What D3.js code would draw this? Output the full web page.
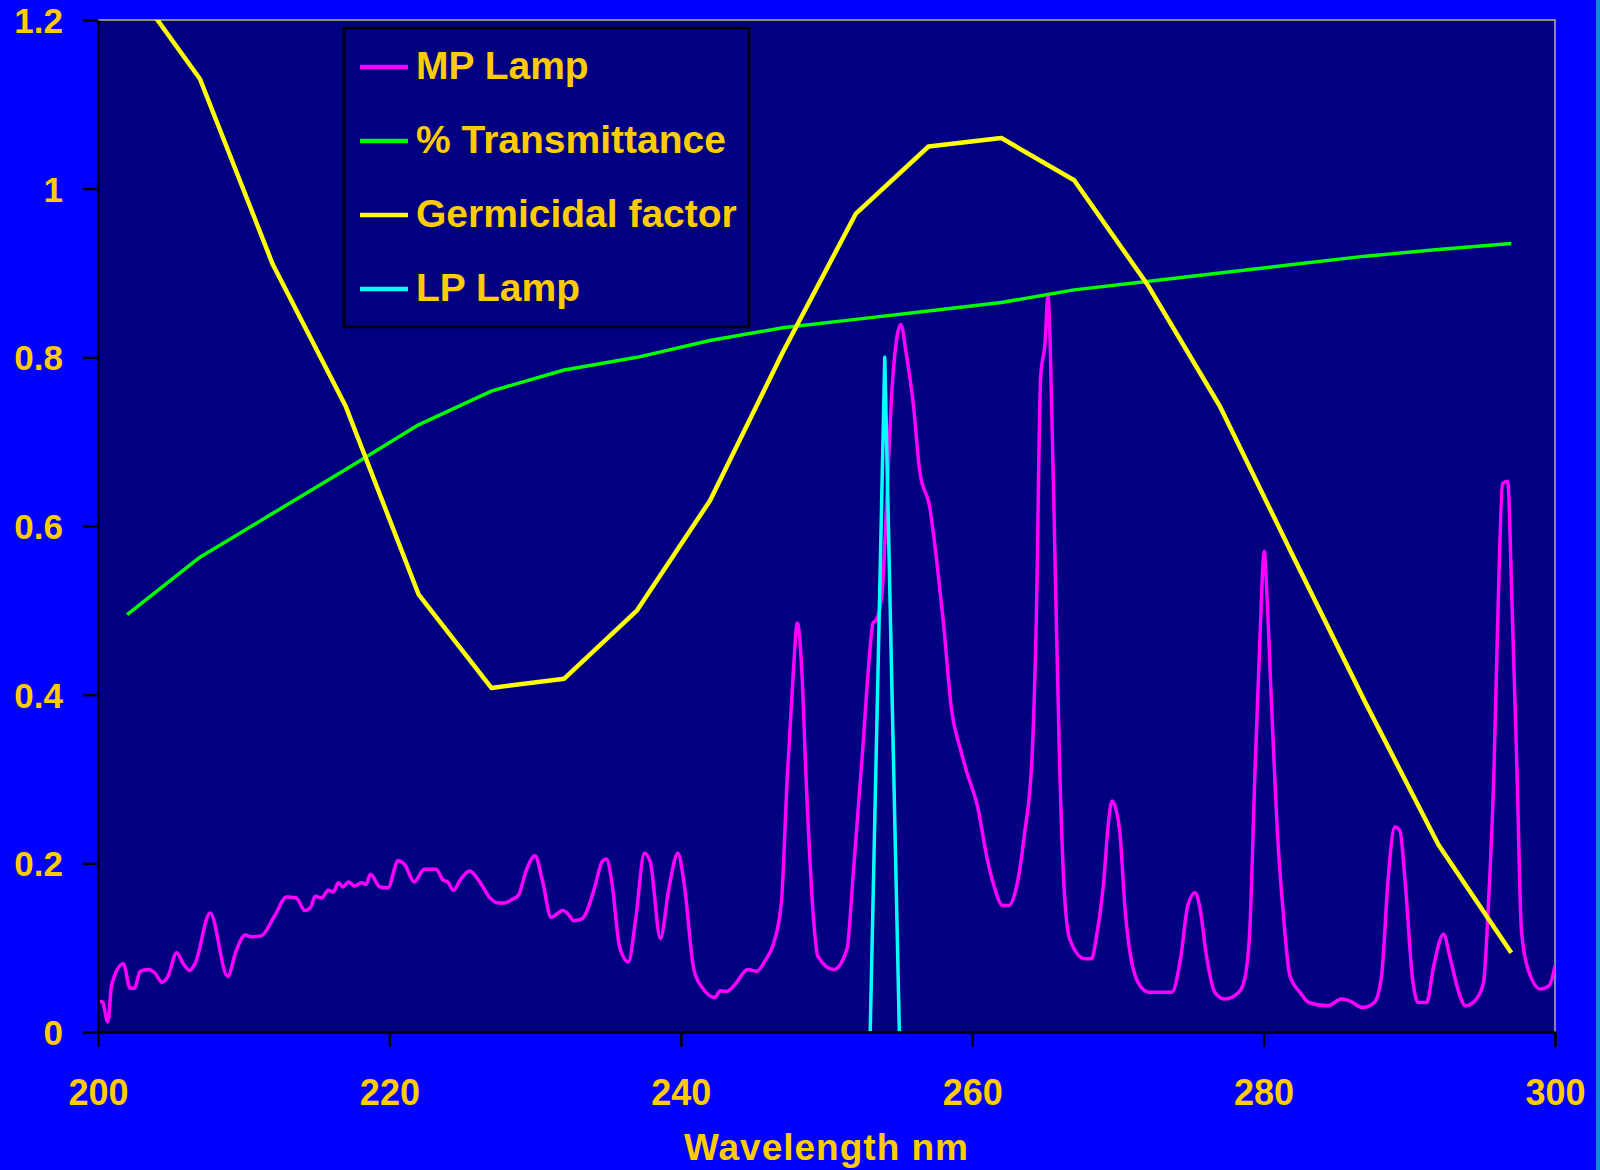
<!DOCTYPE html>
<html>
<head>
<meta charset="utf-8">
<script src="https://cdn.jsdelivr.net/npm/d3@7"></script>
<style>
  html, body { margin: 0; padding: 0; background: #0000ff; }
  svg { display: block; }
  text { font-family: "Liberation Sans", Arial, sans-serif; font-weight: bold; fill: #ffcc00; }
</style>
</head>
<body>
<div id="chart"></div>
<script>
// MP Lamp spectrum (wavelength nm, relative output)
const mpWavelength = [
  200.0, 200.3, 200.67, 200.94, 201.74, 202.2, 202.5, 202.9, 203.45, 203.9, 204.4, 204.8, 205.4, 205.85,
  206.3, 206.66, 207.7, 208.9, 209.5, 210.1, 210.5, 211.2, 212.1, 212.95, 213.6, 214.2, 214.6, 214.9,
  215.35, 215.8, 216.15, 216.5, 216.8, 217.2, 217.6, 218.1, 218.4, 218.7, 219.35, 219.9, 220.6, 221.07,
  221.7, 222.4, 223.2, 223.7, 224.0, 224.4, 224.85, 225.5, 226.2, 226.9, 227.5, 227.9, 228.4, 228.85,
  229.4, 230.0, 230.5, 231.1, 231.9, 232.4, 232.6, 233.2, 233.5, 234.1, 234.6, 234.9, 235.25, 235.8,
  236.4, 236.9, 237.5, 237.9, 238.6, 239.2, 239.8, 240.2, 240.9, 241.5, 242.35, 242.7, 243.15, 243.7,
  244.6, 245.2, 245.8, 246.35, 246.9, 247.3, 247.7, 248.0, 248.3, 248.6, 249.1, 249.4, 250.5, 251.4,
  251.85, 252.5, 252.9, 253.2, 253.4, 253.8, 254.1, 254.5, 255.1, 255.5, 255.95, 256.4, 257.1, 257.55,
  258.0, 258.6, 259.2, 259.6, 260.4, 261.0, 261.45, 262.1, 262.5, 263.05, 263.6, 264.1, 264.4, 264.7,
  265.0, 265.2, 265.35, 265.7, 266.0, 266.3, 266.7, 267.7, 268.2, 268.5, 269.0, 269.35, 269.6, 270.1,
  270.5, 270.9, 271.6, 272.2, 273.7, 274.3, 274.8, 275.3, 275.6, 276.1, 276.65, 277.35, 278.3, 278.7,
  279.05, 279.4, 279.75, 280.05, 280.2, 280.55, 281.0, 281.35, 281.8, 282.5, 283.1, 284.4, 285.35, 285.9,
  286.8, 287.6, 288.1, 288.55, 289.0, 289.35, 289.7, 290.2, 290.6, 291.2, 291.65, 292.35, 292.8, 293.4,
  293.85, 294.6, 295.1, 295.4, 295.8, 296.1, 296.4, 296.75, 297.05, 297.4, 297.7, 298.3, 299.0, 299.6,
  300.0
];
const mpValue = [
  0.036, 0.036, 0.012, 0.056, 0.081, 0.052, 0.052, 0.072, 0.074, 0.070, 0.059, 0.066, 0.094, 0.081,
  0.073, 0.081, 0.141, 0.066, 0.097, 0.115, 0.113, 0.114, 0.137, 0.160, 0.159, 0.144, 0.148, 0.161,
  0.159, 0.168, 0.166, 0.177, 0.172, 0.178, 0.173, 0.177, 0.175, 0.187, 0.172, 0.171, 0.203, 0.198,
  0.178, 0.193, 0.193, 0.180, 0.178, 0.168, 0.180, 0.191, 0.178, 0.159, 0.153, 0.153, 0.157, 0.162,
  0.192, 0.209, 0.180, 0.136, 0.144, 0.137, 0.132, 0.134, 0.141, 0.172, 0.202, 0.205, 0.180, 0.101,
  0.083, 0.133, 0.212, 0.202, 0.111, 0.172, 0.212, 0.180, 0.074, 0.052, 0.041, 0.049, 0.048, 0.056,
  0.074, 0.072, 0.085, 0.104, 0.153, 0.300, 0.420, 0.485, 0.430, 0.300, 0.137, 0.090, 0.074, 0.098,
  0.191, 0.338, 0.436, 0.485, 0.488, 0.518, 0.616, 0.763, 0.839, 0.801, 0.746, 0.665, 0.621, 0.561,
  0.490, 0.380, 0.335, 0.310, 0.265, 0.208, 0.176, 0.150, 0.150, 0.173, 0.236, 0.323, 0.489, 0.777,
  0.817, 0.872, 0.817, 0.547, 0.317, 0.173, 0.110, 0.087, 0.087, 0.110, 0.173, 0.248, 0.274, 0.242,
  0.144, 0.087, 0.053, 0.047, 0.047, 0.087, 0.150, 0.165, 0.150, 0.088, 0.047, 0.039, 0.047, 0.063,
  0.120, 0.304, 0.468, 0.570, 0.529, 0.386, 0.222, 0.141, 0.067, 0.047, 0.035, 0.031, 0.039, 0.037,
  0.029, 0.035, 0.067, 0.182, 0.243, 0.239, 0.182, 0.067, 0.035, 0.035, 0.076, 0.116, 0.088, 0.047,
  0.031, 0.039, 0.059, 0.141, 0.304, 0.508, 0.650, 0.653, 0.508, 0.304, 0.120, 0.067, 0.051, 0.055,
  0.078
];

// LP Lamp (single line near 254 nm)
const lpWavelength = [253, 254, 255];
const lpValue = [0, 0.8, 0];

// % Transmittance and germicidal factor, sampled every 5 nm
const curveWavelength = [202, 207, 212, 217, 222, 227, 232, 237, 242, 247, 252, 257, 262, 267, 272, 277, 282, 287, 292, 297];
const transValue = [0.495, 0.563, 0.615, 0.667, 0.72, 0.76, 0.785, 0.80, 0.82, 0.835, 0.845, 0.855, 0.865, 0.88, 0.89, 0.90, 0.91, 0.92, 0.928, 0.935];
const germValue = [1.25, 1.13, 0.91, 0.742, 0.519, 0.408, 0.419, 0.50, 0.63, 0.806, 0.97, 1.05, 1.06, 1.01, 0.887, 0.742, 0.565, 0.39, 0.222, 0.094];

const xTicks = [200, 220, 240, 260, 280, 300];
const yTicks = [0, 0.2, 0.4, 0.6, 0.8, 1, 1.2];

const legendNames = ["MP Lamp", "% Transmittance", "Germicidal factor", "LP Lamp"];
const legendColours = ["#ff00ff", "#00ff00", "#ffff00", "#00ffff"];

const width = 1600, height = 1170;
const plot = {left: 98, right: 1555, top: 20, bottom: 1032};

const svg = d3.select("#chart").append("svg")
    .attr("width", width)
    .attr("height", height);

// Outer background and thin strip on the right edge
svg.append("rect").attr("width", width).attr("height", height).attr("fill", "#0000ff");
svg.append("rect").attr("x", 1596).attr("width", 4).attr("height", height).attr("fill", "#1387c9");

const x = d3.scaleLinear().domain([200, 300]).range([plot.left, plot.right]);
const y = d3.scaleLinear().domain([0, 1.2]).range([plot.bottom, plot.top]);

// Plot area
svg.append("rect")
    .attr("x", plot.left).attr("y", plot.top)
    .attr("width", plot.right - plot.left).attr("height", plot.bottom - plot.top)
    .attr("fill", "#000080");

svg.append("defs").append("clipPath").attr("id", "plotClip")
  .append("rect")
    .attr("x", plot.left).attr("y", plot.top)
    .attr("width", plot.right - plot.left).attr("height", plot.bottom - plot.top);

// Gray border on top and right
svg.append("path")
    .attr("d", `M${plot.left},${plot.top}H${plot.right}V${plot.bottom}`)
    .attr("fill", "none")
    .attr("stroke", "#8a8a8a")
    .attr("stroke-width", 2);

// Series (the lamp spectrum is drawn smoothed, the 5 nm curves straight)
const series = [
  {xs: mpWavelength, ys: mpValue, colour: legendColours[0], w: 3.5, curve: d3.curveMonotoneX},
  {xs: curveWavelength, ys: transValue, colour: legendColours[1], w: 3.5, curve: d3.curveLinear},
  {xs: curveWavelength, ys: germValue, colour: legendColours[2], w: 4.5, curve: d3.curveLinear},
  {xs: lpWavelength, ys: lpValue, colour: legendColours[3], w: 3.5, curve: d3.curveLinear}
];

const lines = svg.append("g").attr("clip-path", "url(#plotClip)");
series.forEach(s => {
  const line = d3.line()
      .x(d => x(d[0]))
      .y(d => y(d[1]))
      .curve(s.curve);
  lines.append("path")
      .datum(s.xs.map((v, i) => [v, s.ys[i]]))
      .attr("d", line)
      .attr("fill", "none")
      .attr("stroke", s.colour)
      .attr("stroke-width", s.w)
      .attr("stroke-linejoin", "round");
});

// Axes
const xAxis = svg.append("g")
    .attr("transform", `translate(0,${plot.bottom})`)
    .call(d3.axisBottom(x).tickValues(xTicks).tickSize(15).tickSizeOuter(0).tickFormat(d3.format("d")));
xAxis.selectAll("text")
    .attr("y", 73).attr("dy", 0)
    .style("font-size", "36px");

const yAxis = svg.append("g")
    .attr("transform", `translate(${plot.left},0)`)
    .call(d3.axisLeft(y).tickValues(yTicks).tickSize(15).tickSizeOuter(0).tickFormat(d3.format("~g")));
yAxis.selectAll("text")
    .attr("x", -35).attr("dy", "0.36em")
    .style("font-size", "35px");

[xAxis, yAxis].forEach(a => {
  a.select(".domain").attr("stroke", "#000").attr("stroke-width", 3);
  a.selectAll(".tick line").attr("stroke", "#000").attr("stroke-width", 2.5);
  a.selectAll("text").attr("fill", "#ffcc00");
});

svg.append("text")
    .attr("x", (plot.left + plot.right) / 2)
    .attr("y", 1160)
    .attr("text-anchor", "middle")
    .style("font-size", "37px")
    .style("letter-spacing", "1px")
    .text("Wavelength nm");

// Legend
const leg = {x: 344, y: 28, w: 405, h: 299, row0: 67, dy: 74};
svg.append("rect")
    .attr("x", leg.x).attr("y", leg.y)
    .attr("width", leg.w).attr("height", leg.h)
    .attr("fill", "#000080")
    .attr("stroke", "#000")
    .attr("stroke-width", 2.5);

const legItems = svg.append("g")
  .selectAll("g")
  .data(legendNames)
  .join("g")
    .attr("transform", (_, i) => `translate(0,${leg.row0 + i * leg.dy})`);

legItems.append("line")
    .attr("x1", 360).attr("x2", 408)
    .attr("stroke", (_, i) => legendColours[i])
    .attr("stroke-width", 4.5);

legItems.append("text")
    .attr("x", 416)
    .attr("y", 12)
    .style("font-size", "39px")
    .text(d => d);
</script>
</body>
</html>
